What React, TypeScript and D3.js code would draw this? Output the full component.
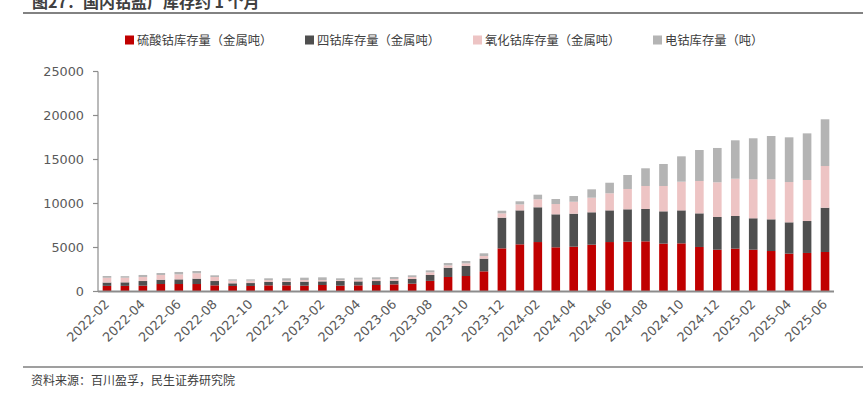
import React from "react";
import * as d3 from "d3";

const months = [
  "2022-02","2022-03","2022-04","2022-05","2022-06","2022-07","2022-08","2022-09","2022-10","2022-11","2022-12",
  "2023-01","2023-02","2023-03","2023-04","2023-05","2023-06","2023-07","2023-08","2023-09","2023-10","2023-11","2023-12",
  "2024-01","2024-02","2024-03","2024-04","2024-05","2024-06","2024-07","2024-08","2024-09","2024-10","2024-11","2024-12",
  "2025-01","2025-02","2025-03","2025-04","2025-05","2025-06",
];

// 硫酸钴库存量（金属吨）
const cobaltSulfate = [640,640,660,850,850,850,700,630,630,700,700,660,740,660,700,740,810,890,1210,1650,1760,2290,4900,5360,5620,5020,5090,5320,5620,5660,5700,5440,5470,5060,4750,4870,4750,4600,4300,4380,4490];
// 四钴库存量（金属吨）
const cobaltTetroxide = [380,400,530,490,530,610,490,300,330,380,380,460,410,530,450,450,420,530,665,1050,1140,1440,3490,3860,3950,3750,3750,3680,3600,3680,3680,3670,3750,3820,3720,3710,3570,3600,3560,3630,5030];
// 氧化钴库存量（金属吨）
const cobaltOxide = [540,530,460,540,570,610,460,300,270,220,150,180,150,110,190,190,190,230,305,270,300,300,490,680,910,1170,1360,1660,1940,2310,2610,2880,3260,3680,3940,4240,4430,4550,4580,4660,4740];
// 电钴库存量（吨）
const electroCobalt = [200,170,230,220,270,260,190,150,150,200,270,270,310,200,230,230,230,190,220,270,270,310,300,350,520,570,650,950,1200,1590,2010,2500,2880,3520,3900,4360,4660,4920,5080,5300,5310];

const seriesNames = ["硫酸钴库存量（金属吨）", "四钴库存量（金属吨）", "氧化钴库存量（金属吨）", "电钴库存量（吨）"];
const seriesColors = ["#C00000", "#4F4F4F", "#EDC4C4", "#B4B4B4"];
const yTicks = [0, 5000, 10000, 15000, 20000, 25000];
const xLabels = months.filter((_, i) => i % 2 === 0);

const title = "图27：国内钴盐厂库存约 1 个月";
const source = "资料来源：百川盈孚，民生证券研究院";

export default function App() {
  const W = 863, H = 395;
  const x0 = 98, x1 = 834, yTop = 71.5, yBot = 291.5;
  const x = d3.scaleBand<string>().domain(months).range([x0, x1]).paddingInner(0.52).paddingOuter(0.26);
  const y = d3.scaleLinear().domain([0, 25000]).range([yBot, yTop]);

  const table = months.map((m, i) => ({
    month: m,
    s0: cobaltSulfate[i],
    s1: cobaltTetroxide[i],
    s2: cobaltOxide[i],
    s3: electroCobalt[i],
  }));
  const stack = d3.stack<any>().keys(["s0", "s1", "s2", "s3"]);
  const layers = stack(table);

  const numFont = "'DejaVu Sans', sans-serif";
  const cjkFont = "'Noto Sans CJK SC', sans-serif";

  const legendX = [125, 305, 473, 653];

  return (
    <svg width={W} height={H} style={{ position: "absolute", left: 0, top: 0, background: "#fff" }}>
      <text x={32} y={7.5} fontFamily={cjkFont} fontSize={16} fontWeight="bold" fill="#404040">{title}</text>
      <line x1={23} x2={863} y1={13} y2={13} stroke="#595959" strokeWidth={1.5} />

      {seriesNames.map((n, i) => (
        <g key={n}>
          <rect x={legendX[i]} y={35.5} width={9} height={9} fill={seriesColors[i]} />
          <text x={legendX[i] + 12} y={44.5} fontFamily={cjkFont} fontSize={12.3} fill="#404040">{n}</text>
        </g>
      ))}

      {layers.map((layer, li) => (
        <g key={li} fill={seriesColors[li]}>
          {layer.map((d, i) => (
            <rect key={i} x={x(months[i])} width={x.bandwidth()} y={y(d[1])} height={y(d[0]) - y(d[1])} />
          ))}
        </g>
      ))}

      <line x1={x0} x2={x0} y1={yTop} y2={yBot} stroke="#8C8C8C" strokeWidth={1.2} />
      {yTicks.map((t) => (
        <g key={t}>
          <line x1={x0 - 5} x2={x0} y1={y(t)} y2={y(t)} stroke="#8C8C8C" strokeWidth={1.2} />
          <text x={x0 - 14} y={y(t)} dy="0.36em" textAnchor="end" fontFamily={numFont} fontSize={12.8} fill="#595959">{t}</text>
        </g>
      ))}
      <line x1={x0} x2={x1} y1={yBot} y2={yBot} stroke="#8C8C8C" strokeWidth={2} />

      {xLabels.map((m) => {
        const cx = (x(m) as number) + x.bandwidth() / 2 + 3;
        const cy = 305;
        return (
          <text key={m} transform={`translate(${cx},${cy}) rotate(-45)`} textAnchor="end" fontFamily={numFont} fontSize={12.8} fill="#595959">{m}</text>
        );
      })}

      <line x1={23} x2={863} y1={367} y2={367} stroke="#7F7F7F" strokeWidth={1.5} />
      <text x={31} y={384.5} fontFamily={cjkFont} fontSize={12} fill="#404040">{source}</text>
    </svg>
  );
}
